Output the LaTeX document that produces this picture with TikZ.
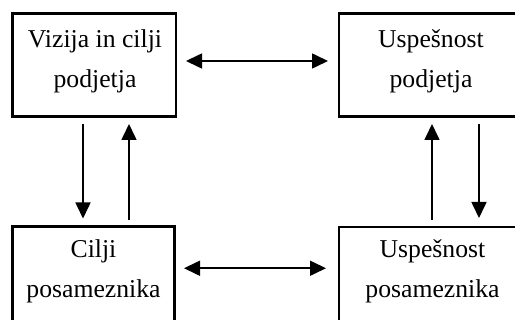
\documentclass[tikz,border=0pt]{standalone}
\usepackage{fontspec}
\setmainfont{Liberation Serif}
\usetikzlibrary{arrows.meta}
\begin{document}
\begin{tikzpicture}[x=1pt,y=-1pt,
  box/.style={draw,line width=2.2pt,inner sep=0pt,outer sep=0pt},
  lbl/.style={align=center,inner sep=0pt,font=\fontsize{25.7}{40}\selectfont},
  arr/.style={line width=1.6pt,-{Triangle[length=16pt,width=15pt]}},
  dbl/.style={line width=1.6pt,{Triangle[length=16pt,width=15pt]}-{Triangle[length=16pt,width=15pt]}}]
\useasboundingbox[fill=white] (0,0) rectangle (515,320);
\clip (0,0) rectangle (515,320);
% boxes
\node[box,minimum width=163.5pt,minimum height=103pt] (tl) at (94.25,65) {};
\node[box,minimum width=186pt,minimum height=103pt] (tr) at (432,65) {};
\node[box,minimum width=162pt,minimum height=103.5pt] (bl) at (93.5,278.25) {};
\node[box,minimum width=186pt,minimum height=103.5pt] (br) at (432,278.75) {};
% texts
\node[lbl] (tlt) at (95,61) {Vizija in cilji\\podjetja};
\node[lbl] (trt) at (431,61) {Uspešnost\\podjetja};
\node[lbl] (blt) at (93.5,271) {Cilji\\posameznika};
\node[lbl] (brt) at (432.5,271) {Uspešnost\\posameznika};
% horizontal arrows
\draw[dbl] ([shift={(10,-4)}]tl.east) -- ([shift={(-11,-4)}]tr.west);
\draw[dbl] ([shift={(9.5,-10)}]bl.east) -- ([shift={(-13,-10.5)}]br.west);
% left verticals
\draw[arr] ([shift={(70.5,7.5)}]tl.south west) -- ([shift={(70.5,-8)}]bl.north west);
\draw[arr] ([shift={(116.5,-6)}]bl.north west) -- ([shift={(116.5,7.5)}]tl.south west);
% right verticals
\draw[arr] ([shift={(93,-7)}]br.north west) -- ([shift={(93,7.5)}]tr.south west);
\draw[arr] ([shift={(140,7.5)}]tr.south west) -- ([shift={(140,-9)}]br.north west);
\end{tikzpicture}
\end{document}
